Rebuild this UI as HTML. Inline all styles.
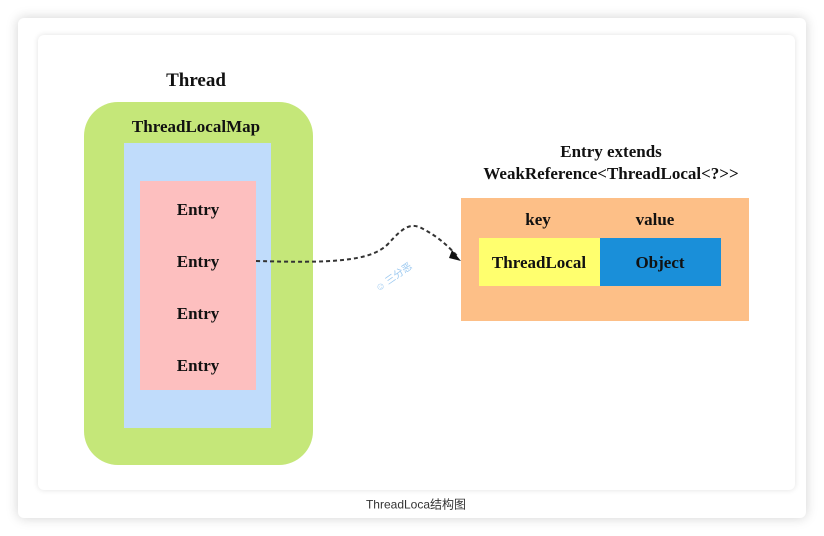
<!DOCTYPE html>
<html><head><meta charset="utf-8"><style>
body{margin:0;width:824px;height:536px;background:#fff;position:relative;overflow:hidden;font-family:"Liberation Serif",serif}
.a{position:absolute}
.t{position:absolute;transform:translate(-50%,-50%);white-space:nowrap;color:#111;font-weight:bold}
</style></head><body>
<div class="a" style="left:18px;top:18px;width:788px;height:500px;background:#fff;border-radius:6px;box-shadow:0 0 12px rgba(0,0,0,0.18)"></div>
<div class="a" style="left:38px;top:35px;width:757px;height:455px;background:#fff;border-radius:6px;box-shadow:0 0 6px rgba(0,0,0,0.12)"></div>
<div class="a" style="left:84px;top:102px;width:229px;height:363px;background:#c5e779;border-radius:34px"></div>
<div class="a" style="left:124px;top:143px;width:147px;height:285px;background:#c0dcfb"></div>
<div class="a" style="left:140px;top:181px;width:116px;height:209px;background:#fdbfbf"></div>
<div class="a" style="left:461px;top:198px;width:288px;height:123px;background:#fdbf87"></div>
<div class="a" style="left:479px;top:238px;width:121px;height:48px;background:#ffff6e"></div>
<div class="a" style="left:600px;top:238px;width:121px;height:48px;background:#1a8fd9"></div>
<div class="t" style="left:196px;top:81px;font-size:19px">Thread</div>
<div class="t" style="left:196px;top:127px;font-size:17px">ThreadLocalMap</div>
<div class="t" style="left:198px;top:210px;font-size:17px">Entry</div>
<div class="t" style="left:198px;top:262px;font-size:17px">Entry</div>
<div class="t" style="left:198px;top:314px;font-size:17px">Entry</div>
<div class="t" style="left:198px;top:366px;font-size:17px">Entry</div>
<div class="t" style="left:611px;top:152px;font-size:17px">Entry extends</div>
<div class="t" style="left:611px;top:174px;font-size:17px">WeakReference&lt;ThreadLocal&lt;?&gt;&gt;</div>
<div class="t" style="left:538px;top:220px;font-size:17px">key</div>
<div class="t" style="left:655px;top:220px;font-size:17px">value</div>
<div class="t" style="left:539px;top:263px;font-size:17px">ThreadLocal</div>
<div class="t" style="left:660px;top:263px;font-size:17px">Object</div>
<svg class="a" style="left:0;top:0" width="824" height="536">
<path d="M256 261 C330 263,370 262,388 244 C405 225,412 222,425 230 C440 238,450 248,458 257" fill="none" stroke="#333" stroke-width="2" stroke-dasharray="4,3"/>
<path d="M452 250 L461 261 L449 258 Z" fill="#111"/>
<text x="378" y="292" font-size="10" fill="#9cc9f0" transform="rotate(-35 378 292)" font-family="Noto Sans CJK SC,sans-serif">☺ 三分恶</text>
</svg>
<div class="t" style="left:416px;top:504px;font-size:12px;font-weight:normal;color:#333;font-family:'Liberation Sans','Noto Sans CJK SC',sans-serif">ThreadLoca结构图</div>
</body></html>
